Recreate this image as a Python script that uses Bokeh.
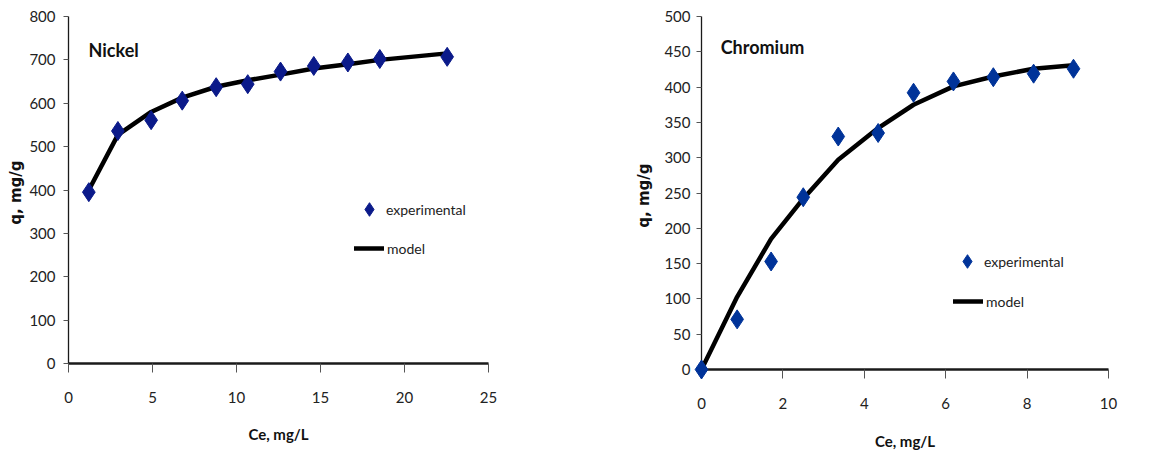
from bokeh.plotting import figure
from bokeh.layouts import row
from bokeh.models import Range1d, FixedTicker, Legend, LegendItem, Label
from bokeh.embed import file_html
from bokeh.resources import INLINE

# ---- Nickel data ----
ni_ce = [1.21, 2.94, 4.92, 6.77, 8.79, 10.67, 12.62, 14.6, 16.63, 18.53, 22.54]
ni_q_exp = [395, 536, 561, 606, 637, 644, 673, 686, 694, 702, 707]
ni_q_model = [400, 527, 580, 613, 638, 653, 666, 680, 690, 700, 715]

# ---- Chromium data ----
cr_ce = [0.0, 0.876, 1.71, 2.50, 3.36, 4.34, 5.21, 6.19, 7.17, 8.16, 9.14]
cr_q_exp = [0, 71, 153, 244, 330, 335, 392, 408, 414, 419, 426]
cr_q_model = [0, 103, 185, 242, 297, 342, 375, 401, 415, 426, 431]

ni_yticks = [0, 100, 200, 300, 400, 500, 600, 700, 800]
ni_xticks = [0, 5, 10, 15, 20, 25]
cr_yticks = [0, 50, 100, 150, 200, 250, 300, 350, 400, 450, 500]
cr_xticks = [0, 2, 4, 6, 8, 10]

FONT = "Lato"
AX = "#1a1a1a"


def make_panel(ce, qexp, qmodel, xr, yr, xticks, yticks, fw, fh, bl, bt, bb, br,
               mcolor, title, tx, ty, leg1_loc, leg2_loc, ystand, ylstand, xlstand):
    p = figure(frame_width=fw, frame_height=fh, min_border_left=bl, min_border_top=bt,
               min_border_bottom=bb, min_border_right=br,
               x_range=Range1d(*xr), y_range=Range1d(*yr),
               output_backend="svg", toolbar_location=None)
    p.outline_line_color = None
    p.grid.visible = False
    p.background_fill_color = "white"
    p.border_fill_color = "white"

    ln = p.line(ce, qmodel, line_color="black", line_width=4.5, line_join="round", line_cap="round")
    sc = p.scatter(ce, qexp, marker="diamond", size=19, fill_color=mcolor, line_color=mcolor)
    sc.level = "overlay"

    xa = p.xaxis[0]
    xa.ticker = FixedTicker(ticks=xticks)
    xa.minor_tick_line_color = None
    xa.major_tick_in = 0
    xa.major_tick_out = 9
    xa.major_tick_line_color = "#555555"
    xa.axis_line_width = 2.5
    xa.axis_line_color = AX
    xa.major_label_standoff = 19
    xa.major_label_text_font = FONT
    xa.major_label_text_font_size = "15px"
    xa.major_label_text_color = "#222222"
    xa.axis_label = "Ce, mg/L"
    xa.axis_label_text_font = FONT
    xa.axis_label_text_font_style = "bold"
    xa.axis_label_text_font_size = "15px"
    xa.axis_label_text_color = "#111111"
    xa.axis_label_standoff = xlstand

    ya = p.yaxis[0]
    ya.ticker = FixedTicker(ticks=yticks)
    ya.minor_tick_line_color = None
    ya.major_tick_in = 0
    ya.major_tick_out = 5
    ya.major_tick_line_color = "#555555"
    ya.axis_line_width = 1.3
    ya.axis_line_color = AX
    ya.major_label_standoff = ystand
    ya.major_label_text_font = FONT
    ya.major_label_text_font_size = "15px"
    ya.major_label_text_color = "#222222"
    ya.axis_label = "q,  mg/g"
    ya.axis_label_text_font = "DejaVu Sans"
    ya.axis_label_text_font_style = "bold"
    ya.axis_label_text_font_size = "15px"
    ya.axis_label_text_color = "#111111"
    ya.axis_label_standoff = ylstand

    p.add_layout(Label(x=tx, y=ty, text=title, text_font=FONT, text_font_style="bold",
                       text_font_size="18px", text_baseline="middle", text_align="left",
                       text_color="#111111"))

    common = dict(padding=0, margin=0, label_text_font=FONT, label_text_font_size="14px",
                  label_text_color="#222222", border_line_alpha=0, background_fill_alpha=0)
    leg1 = Legend(items=[LegendItem(label="experimental", renderers=[sc])],
                  location=leg1_loc, glyph_width=34, glyph_height=38, label_standoff=0, **common)
    leg2 = Legend(items=[LegendItem(label="model", renderers=[ln])],
                  location=leg2_loc, glyph_width=30, glyph_height=20, label_standoff=3, **common)
    p.add_layout(leg1)
    p.add_layout(leg2)
    return p


p1 = make_panel(ni_ce, ni_q_exp, ni_q_model, (0, 25), (0, 800), ni_xticks, ni_yticks,
                420, 347, 68, 15, 92, 112, "#0b1a8a", "Nickel", 1.19, 723,
                (284, 135), (286, 105), 8, 1, 19)
p2 = make_panel(cr_ce, cr_q_exp, cr_q_model, (0, 10), (0, 500), cr_xticks, cr_yticks,
                407, 353, 101, 16, 85, 43, "#003399", "Chromium", 0.47, 457,
                (249, 89), (252, 58), 6, 8, 20)

layout = row(p1, p2)
open("out.html", "w").write(file_html(layout, INLINE))
